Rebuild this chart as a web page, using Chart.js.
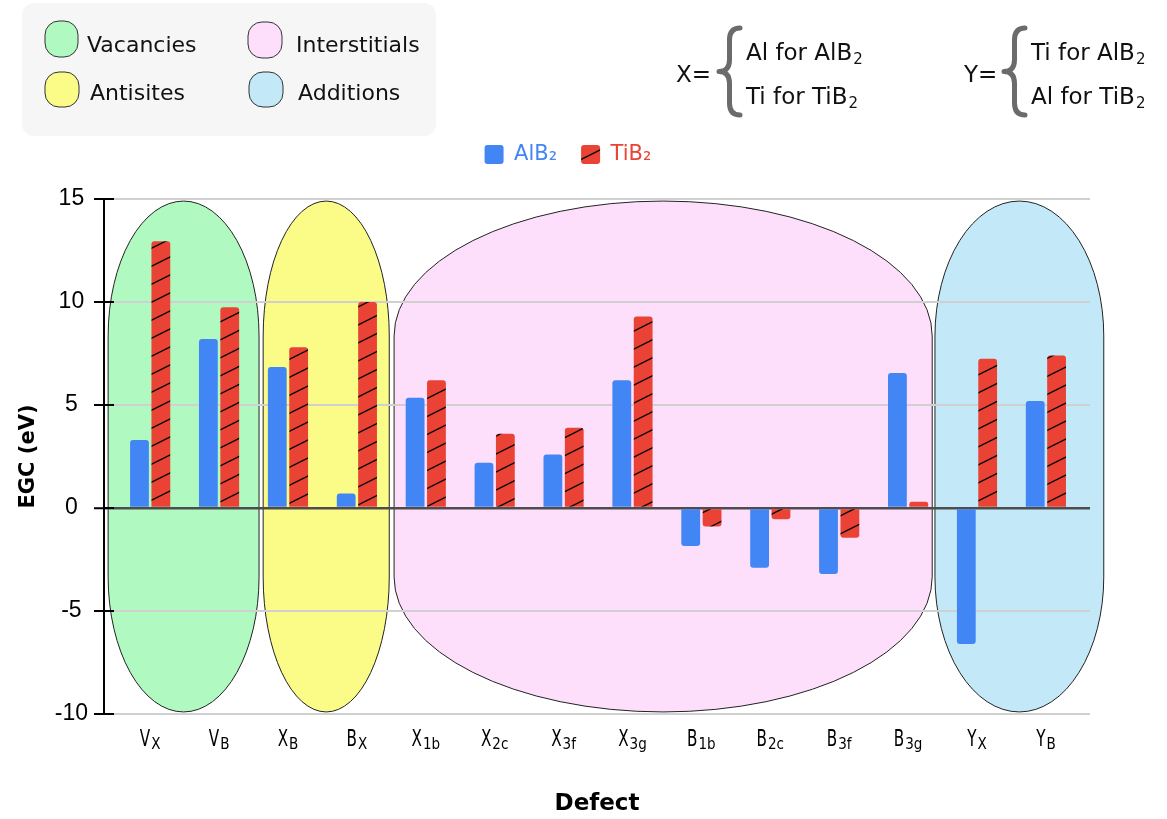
<!DOCTYPE html>
<html>
<head>
<meta charset="utf-8">
<script src="https://cdn.jsdelivr.net/npm/chart.js@4.4.1/dist/chart.umd.min.js"></script>
<style>
  html, body { margin: 0; padding: 0; background: #fff; }
</style>
</head>
<body>
<canvas id="graph1" width="1167" height="819"></canvas>
<script>
// defect labels, "base_sub"
var defects = ['V_X', 'V_B', 'X_B', 'B_X', 'X_1b', 'X_2c', 'X_3f', 'X_3g', 'B_1b', 'B_2c', 'B_3f', 'B_3g', 'Y_X', 'Y_B'];
var alb2Values = [3.3, 8.2, 6.85, 0.7, 5.35, 2.2, 2.6, 6.2, -1.85, -2.9, -3.2, 6.55, -6.6, 5.2];
var tib2Values = [12.95, 9.75, 7.8, 10.0, 6.2, 3.6, 3.9, 9.3, -0.9, -0.55, -1.45, 0.3, 7.25, 7.4];
var yTicks = [-10, -5, 0, 5, 10, 15];

var seriesNames = ['AlB\u2082', 'TiB\u2082'];
var seriesColors = ['#4285f4', '#ea4335'];

// background regions, in category units
var groupNames = ['Vacancies', 'Antisites', 'Interstitials', 'Additions'];
var groupColors = ['#b0f9c0', '#fbfb87', '#fddefb', '#c3e8f7'];
var groupFrom = [-0.61, 1.64, 3.54, 11.39];
var groupTo = [1.58, 3.47, 11.35, 13.84];

var ctx = document.getElementById('graph1').getContext('2d');

function hatch(color) {
    var c = document.createElement('canvas');
    c.width = 36; c.height = 18;
    var g = c.getContext('2d');
    g.fillStyle = color;
    g.fillRect(0, 0, 36, 18);
    g.strokeStyle = '#000';
    g.lineWidth = 1.3;
    for (var k = -1; k <= 1; k++) {
        g.beginPath();
        g.moveTo(-2, 19 + k * 18);
        g.lineTo(38, -1 + k * 18);
        g.stroke();
    }
    return ctx.createPattern(c, 'repeat');
}

function softRect(c, l, t, r, b, rx, ry) {
    c.beginPath();
    c.moveTo(l, t + ry);
    c.ellipse(l + rx, t + ry, rx, ry, 0, Math.PI, 1.5 * Math.PI);
    c.lineTo(r - rx, t);
    c.ellipse(r - rx, t + ry, rx, ry, 0, 1.5 * Math.PI, 2 * Math.PI);
    c.lineTo(r, b - ry);
    c.ellipse(r - rx, b - ry, rx, ry, 0, 0, 0.5 * Math.PI);
    c.lineTo(l + rx, b);
    c.ellipse(l + rx, b - ry, rx, ry, 0, 0.5 * Math.PI, Math.PI);
    c.closePath();
}

function subText(c, x, y, main, sub, size, subSize) {
    c.font = size + 'px "DejaVu Sans"';
    c.fillText(main, x, y);
    var w = c.measureText(main).width;
    c.font = subSize + 'px "DejaVu Sans"';
    c.fillText(sub, x + w + 1, y + 4);
}

function brace(c, x0, x1, top, bottom) {
    var xm = (x0 + x1) / 2, mid = (top + bottom) / 2, r = 12;
    c.beginPath();
    c.moveTo(x1, top);
    c.quadraticCurveTo(xm, top, xm, top + r);
    c.lineTo(xm, mid - r);
    c.quadraticCurveTo(xm, mid, x0, mid);
    c.quadraticCurveTo(xm, mid, xm, mid + r);
    c.lineTo(xm, bottom - r);
    c.quadraticCurveTo(xm, bottom, x1, bottom);
    c.strokeStyle = '#6b6b6b';
    c.lineWidth = 5;
    c.lineCap = 'round';
    c.lineJoin = 'round';
    c.stroke();
}

var decorations = {
    id: 'decorations',
    beforeInit: function (chart) {
        var fit = chart.legend.fit;
        chart.legend.fit = function () {
            fit.bind(chart.legend)();
            this.height += 24;
        };
    },
    afterLayout: function (chart) {
        chart.legend.left += 23;
        chart.legend.right += 23;
    },
    beforeDraw: function (chart) {
        var c = chart.ctx, xs = chart.scales.x, ys = chart.scales.y;
        var top = ys.getPixelForValue(14.9), bottom = ys.getPixelForValue(-9.9);
        c.save();
        for (var i = 0; i < groupNames.length; i++) {
            var l = xs.getPixelForValue(groupFrom[i]), r = xs.getPixelForValue(groupTo[i]);
            softRect(c, l, top, r, bottom, (r - l) / 2, 135);
            c.fillStyle = groupColors[i];
            c.fill();
            c.strokeStyle = '#222';
            c.lineWidth = 1;
            c.stroke();
        }
        c.restore();
    },
    afterDraw: function (chart) {
        var c = chart.ctx, xs = chart.scales.x, ys = chart.scales.y, area = chart.chartArea;
        c.save();
        // inner tick marks
        c.strokeStyle = '#000';
        c.lineWidth = 2;
        yTicks.forEach(function (v) {
            var y = ys.getPixelForValue(v);
            c.beginPath();
            c.moveTo(area.left, y);
            c.lineTo(area.left + 10, y);
            c.stroke();
        });
        // category labels with subscripts
        c.fillStyle = '#000';
        c.textBaseline = 'alphabetic';
        c.textAlign = 'left';
        defects.forEach(function (name, i) {
            var parts = name.split('_');
            var x = xs.getPixelForValue(i);
            c.font = '23px "DejaVu Sans"';
            var w1 = c.measureText(parts[0]).width * 0.66;
            c.font = '15px "DejaVu Sans"';
            var w2 = c.measureText(parts[1]).width * 0.9;
            var start = x - (w1 + 1 + w2) / 2;
            c.save();
            c.translate(start, area.bottom + 32);
            c.scale(0.66, 1);
            c.font = '23px "DejaVu Sans"';
            c.fillText(parts[0], 0, 0);
            c.restore();
            c.save();
            c.translate(start + w1 + 1, area.bottom + 35);
            c.scale(0.9, 1);
            c.font = '15px "DejaVu Sans"';
            c.fillText(parts[1], 0, 0);
            c.restore();
        });

        // group key panel
        softRect(c, 22, 3, 436, 136, 12, 12);
        c.fillStyle = '#f6f6f6';
        c.fill();
        var keys = [
            [45, 21, 78, 57, 87, 51.5],
            [45, 72, 79, 107, 90, 100],
            [248, 22, 282, 58, 296, 51.5],
            [249, 72, 283, 107, 298, 100]
        ];
        keys.forEach(function (k, i) {
            softRect(c, k[0], k[1], k[2], k[3], 14, 14);
            c.fillStyle = groupColors[i];
            c.fill();
            c.strokeStyle = '#333';
            c.lineWidth = 1;
            c.stroke();
            c.fillStyle = '#111';
            c.font = '22px "DejaVu Sans"';
            c.fillText(groupNames[i], k[4], k[5]);
        });

        // X / Y definitions
        c.fillStyle = '#111';
        c.font = '23px "DejaVu Sans"';
        c.fillText('X=', 676, 81.5);
        c.fillText('Y=', 964, 81.5);
        brace(c, 719, 740, 28, 115);
        brace(c, 1004, 1025, 28, 115);
        c.fillStyle = '#111';
        subText(c, 746, 59.5, 'Al for AlB', '2', 23, 15);
        subText(c, 746, 103.5, 'Ti for TiB', '2', 23, 15);
        subText(c, 1031, 59.5, 'Ti for AlB', '2', 23, 15);
        subText(c, 1031, 103.5, 'Al for TiB', '2', 23, 15);
        c.restore();
    }
};

Chart.defaults.font.family = '"DejaVu Sans"';
Chart.defaults.color = '#000';

var data = {
    datasets: [
        {
            label: seriesNames[0],
            backgroundColor: seriesColors[0],
            data: alb2Values.map(function (v, i) { return { x: i, y: v }; })
        },
        {
            label: seriesNames[1],
            backgroundColor: hatch(seriesColors[1]),
            data: tib2Values.map(function (v, i) { return { x: i, y: v }; })
        }
    ]
};

var config = {
    type: 'bar',
    data: data,
    options: {
        responsive: false,
        animation: false,
        layout: { padding: { top: 120, left: 0, right: 77, bottom: 0 } },
        datasets: {
            bar: { categoryPercentage: 0.62, barPercentage: 0.88, borderRadius: 3, borderWidth: 0 }
        },
        plugins: {
            tooltip: { enabled: false },
            legend: {
                position: 'top',
                labels: {
                    font: { size: 21 },
                    boxWidth: 19,
                    boxHeight: 19,
                    padding: 24,
                    useBorderRadius: true,
                    borderRadius: 3,
                    generateLabels: function (chart) {
                        var items = Chart.defaults.plugins.legend.labels.generateLabels(chart);
                        items.forEach(function (it, i) {
                            it.fontColor = seriesColors[i];
                            it.lineWidth = 0;
                        });
                        return items;
                    }
                }
            }
        },
        scales: {
            x: {
                type: 'linear',
                offset: false,
                min: -0.67,
                max: 13.64,
                grid: { display: false, offset: false },
                border: { display: false },
                ticks: { display: false },
                title: { display: true, text: 'Defect', font: { size: 23, weight: 'bold' }, padding: { top: 0, bottom: 1 } },
                afterFit: function (s) { s.height = 105; }
            },
            y: {
                min: -10,
                max: 15,
                afterBuildTicks: function (s) {
                    s.ticks = yTicks.map(function (v) { return { value: v }; });
                },
                ticks: {
                    font: { family: '"Liberation Sans"', size: 23 },
                    color: '#000',
                    padding: 6,
                    crossAlign: 'center'
                },
                grid: {
                    color: function (c) { return c.tick && c.tick.value === 0 ? '#4d4d4d' : '#d0d0d0'; },
                    lineWidth: function (c) { return c.tick && c.tick.value === 0 ? 2.5 : 2; },
                    tickColor: '#000',
                    tickLength: 10,
                    tickWidth: 2
                },
                border: { display: true, color: '#000', width: 2 },
                title: { display: true, text: 'EGC (eV)', font: { size: 21, weight: 'bold' }, padding: { top: 16, bottom: 0 } },
                afterFit: function (s) { s.width = 104; }
            }
        }
    },
    plugins: [decorations]
};

var graph1 = new Chart(ctx, config);
</script>
</body>
</html>
